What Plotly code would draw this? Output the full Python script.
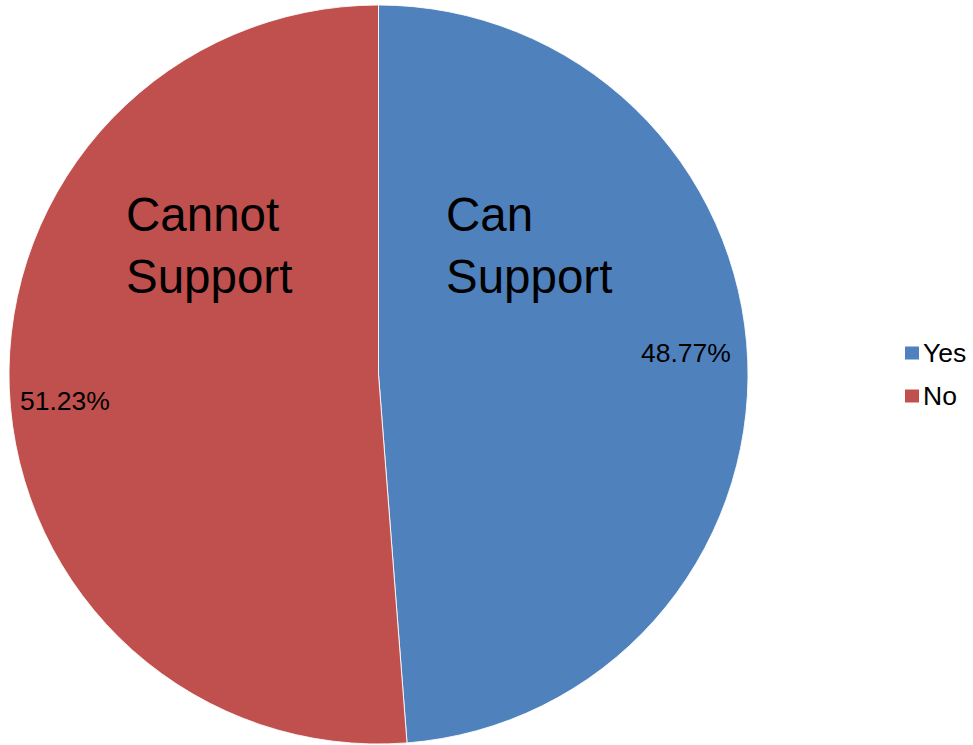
import plotly.graph_objects as go

categories = ["Yes", "No"]
values = [48.77, 51.23]
colors = ["#4F81BD", "#C0504D"]
slice_titles = ["Can<br>Support", "Cannot<br>Support"]

W, H = 973, 745

fig = go.Figure(go.Pie(
    labels=categories,
    values=values,
    sort=False,
    direction="clockwise",
    rotation=0,
    marker=dict(colors=colors, line=dict(color="rgba(255,255,255,0.85)", width=1)),
    textinfo="none",
    hoverinfo="label+percent",
    showlegend=False,
    domain=dict(x=[8 / W, 749 / W], y=[1 / H, 740 / H]),
))

font = "Liberation Sans, Arial, sans-serif"
annotations = []
# percentage labels
pct_pos = [(686 / W, 1 - 352.5 / H), (65 / W, 1 - 401 / H)]
for v, (x, y) in zip(values, pct_pos):
    annotations.append(dict(x=x, y=y, xref="paper", yref="paper", text=f"{v:.2f}%",
                            showarrow=False, xanchor="center", yanchor="middle",
                            font=dict(family=font, size=26.5, color="black")))
# big slice titles
title_pos = [(444 / W, 1 - 245 / H), (124 / W, 1 - 245 / H)]
for t, (x, y) in zip(slice_titles, title_pos):
    annotations.append(dict(x=x, y=y, xref="paper", yref="paper", text=t,
                            showarrow=False, xanchor="left", yanchor="middle", align="left",
                            font=dict(family=font, size=47.5, color="black")))
# custom legend
shapes = []
leg_y = [353, 396]
for c, lab, yy in zip(colors, categories, leg_y):
    shapes.append(dict(type="rect", xref="paper", yref="paper",
                       x0=905 / W, x1=919 / W, y0=1 - (yy + 6.5) / H, y1=1 - (yy - 6.5) / H,
                       fillcolor=c, line=dict(width=0)))
    annotations.append(dict(x=921 / W, y=1 - yy / H, xref="paper", yref="paper", text=lab,
                            showarrow=False, xanchor="left", yanchor="middle",
                            font=dict(family=font, size=26.5, color="black")))

fig.update_layout(
    width=W, height=H,
    margin=dict(l=0, r=0, t=0, b=0),
    paper_bgcolor="white",
    plot_bgcolor="white",
    annotations=annotations,
    shapes=shapes,
)

fig.write_html("out.html",
               config={"displayModeBar": False},
               post_script="document.body.style.margin='0';document.body.style.overflow='hidden';")
